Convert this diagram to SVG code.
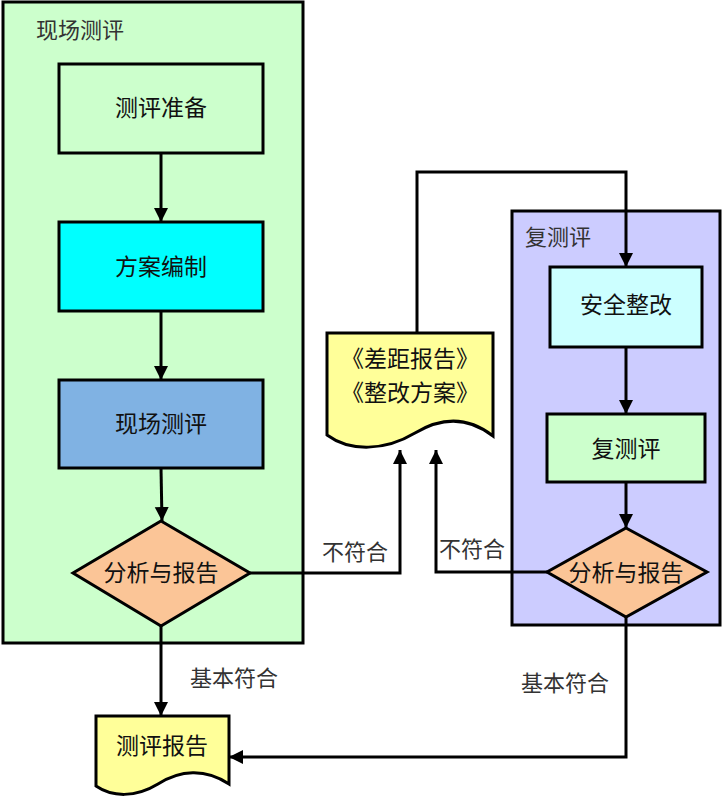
<svg xmlns="http://www.w3.org/2000/svg" width="722" height="797" viewBox="0 0 722 797">
<defs>
<marker id="ah" markerUnits="userSpaceOnUse" markerWidth="14" markerHeight="20" viewBox="0 0 14 20" refX="14" refY="7" orient="auto">
<path d="M0,0 L14,7 L0,14 Z" fill="#000"/>
</marker>
<style>
.box{stroke:#000;stroke-width:3}
.t{font-family:"Liberation Sans","Noto Sans CJK SC",sans-serif;font-size:23px;fill:#111;text-anchor:middle}
.l{font-family:"Liberation Sans","Noto Sans CJK SC",sans-serif;font-size:22px;fill:#333}
.c{fill:none;stroke:#000;stroke-width:3}
</style>
</defs>
<rect width="722" height="797" fill="#fff"/>
<g id="group-left">
<rect class="box" x="3" y="2" width="300" height="641" fill="#ccffcc"/>
<text class="l" x="36" y="38">现场测评</text>
</g>
<g id="group-right">
<rect class="box" x="512" y="211" width="208" height="414" fill="#ccccff"/>
<text class="l" x="525" y="245">复测评</text>
</g>
<g id="prep">
<rect class="box" x="59" y="64" width="204" height="89" fill="#ccffcc"/>
<text class="t" x="161" y="116">测评准备</text>
</g>
<g id="plan">
<rect class="box" x="59" y="222" width="204" height="89" fill="#00ffff"/>
<text class="t" x="161" y="275">方案编制</text>
</g>
<g id="onsite">
<rect class="box" x="59" y="380" width="204" height="88" fill="#80b2e3"/>
<text class="t" x="161" y="432">现场测评</text>
</g>
<g id="analyze1">
<polygon class="box" points="161,521 250,573 161,626 73,573" fill="#fbc597"/>
<text class="t" x="161" y="581">分析与报告</text>
</g>
<g id="report">
<path class="box" d="M96,716 H229 V784 C205,768 180,770 158,784 C135,798 112,797 96,786 Z" fill="#ffff99"/>
<text class="t" x="162" y="754">测评报告</text>
</g>
<g id="gapdoc">
<path class="box" d="M327,333 H493 V436 C470,418 445,415 415,433 C385,451 350,452 327,435 Z" fill="#ffff99"/>
<text class="t" x="410" y="367">《差距报告》</text>
<text class="t" x="410" y="401">《整改方案》</text>
</g>
<g id="fix">
<rect class="box" x="550" y="267" width="152" height="80" fill="#ccffff"/>
<text class="t" x="626" y="313">安全整改</text>
</g>
<g id="recheck">
<rect class="box" x="547" y="414" width="158" height="68" fill="#ccffcc"/>
<text class="t" x="626" y="457">复测评</text>
</g>
<g id="analyze2">
<polygon class="box" points="626,528 707,572 626,617 547,572" fill="#fbc597"/>
<text class="t" x="626" y="581">分析与报告</text>
</g>
<g id="connectors">
<path class="c" d="M161,153 V222" marker-end="url(#ah)"/>
<path class="c" d="M161,311 V380" marker-end="url(#ah)"/>
<path class="c" d="M161,468 L162,521" marker-end="url(#ah)"/>
<path class="c" d="M161,626 V716" marker-end="url(#ah)"/>
<path class="c" d="M250,573 H400 V450" marker-end="url(#ah)"/>
<path class="c" d="M547,572 H436 V450" marker-end="url(#ah)"/>
<path class="c" d="M417,333 V172 H626 V267" marker-end="url(#ah)"/>
<path class="c" d="M626,347 V414" marker-end="url(#ah)"/>
<path class="c" d="M626,482 V528" marker-end="url(#ah)"/>
<path class="c" d="M626,617 V757 H229" marker-end="url(#ah)"/>
<text class="l" x="322" y="560">不符合</text>
<text class="l" x="439" y="557">不符合</text>
<text class="l" x="190" y="686">基本符合</text>
<text class="l" x="521" y="691">基本符合</text>
</g>
</svg>
